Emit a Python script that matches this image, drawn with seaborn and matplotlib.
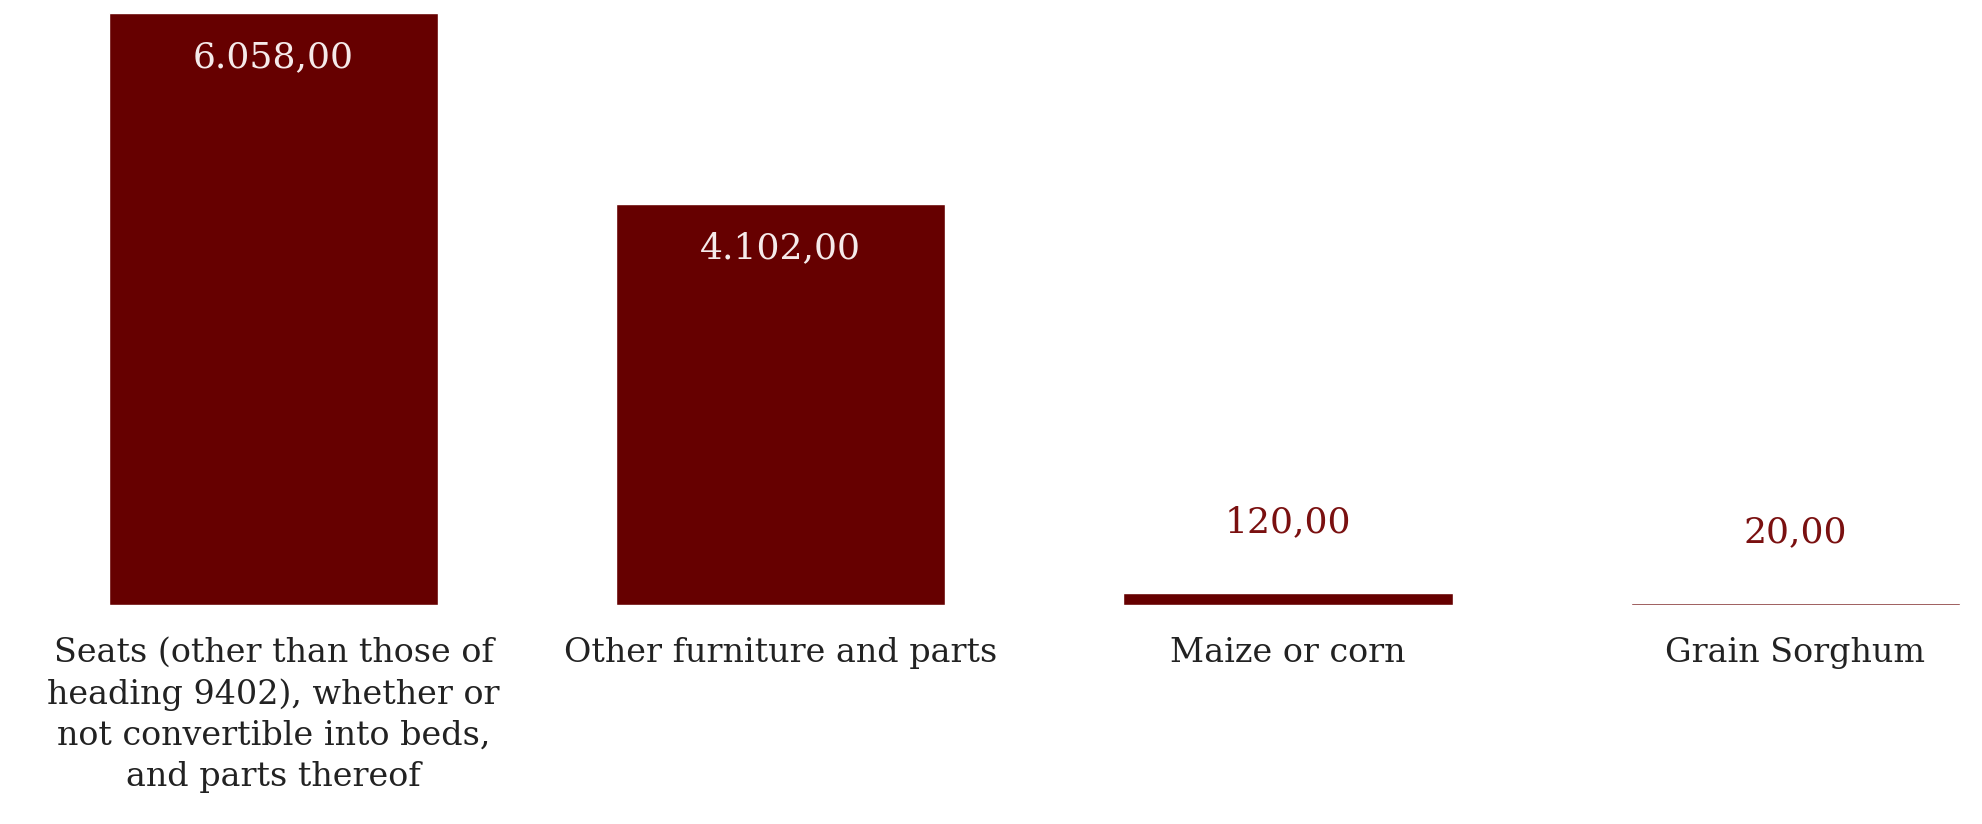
import matplotlib
matplotlib.use("Agg")
import matplotlib.pyplot as plt
import seaborn as sns
import pandas as pd

categories = [
    "Seats (other than those of\nheading 9402), whether or\nnot convertible into beds,\nand parts thereof",
    "Other furniture and parts",
    "Maize or corn",
    "Grain Sorghum",
]
values = [6058.00, 4102.00, 120.00, 20.00]
value_labels = ["6.058,00", "4.102,00", "120,00", "20,00"]

BAR = "#660000"

sns.set_style("white")
plt.rcParams["font.family"] = ["DejaVu Serif"]

df = pd.DataFrame({"cat": categories, "val": values})

fig = plt.figure(figsize=(19.83, 8.24), dpi=100)
ax = fig.add_axes([0, 0.2658, 1, 0.7342])
sns.barplot(data=df, x="cat", y="val", color=BAR, width=0.649, saturation=1, ax=ax)

ax.set_xlim(-0.539, 3.370)
ax.set_ylim(0, 6191)
for s in ax.spines.values():
    s.set_visible(False)
ax.set_yticks([])
ax.set_xlabel("")
ax.set_ylabel("")
ax.tick_params(axis="x", length=0, pad=23, labelsize=24, labelcolor="#222222")
for lab in ax.get_xticklabels():
    lab.set_horizontalalignment("center")
    lab.set_multialignment("center")
    lab.set_linespacing(1.36)

ymax = max(values)
for i, (v, t) in enumerate(zip(values, value_labels)):
    if v > 0.2 * ymax:
        ax.annotate(t, (i, v), xytext=(0, -32), textcoords="offset points",
                    ha="center", va="center", color="#f5eaea", fontsize=26)
    else:
        ax.annotate(t, (i, v), xytext=(0, 51), textcoords="offset points",
                    ha="center", va="center", color="#7a1010", fontsize=26)

fig.savefig("out.png", dpi=100)
